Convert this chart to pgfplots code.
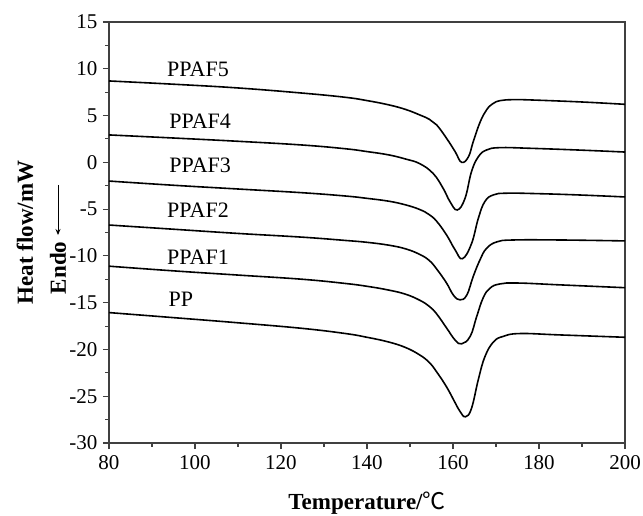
\documentclass[border=0pt]{standalone}
\usepackage{fontspec}
\setmainfont{Liberation Serif}
\newfontfamily\cjk{Noto Sans CJK SC}
\usepackage{pgfplots}
\pgfplotsset{compat=1.18}
\usetikzlibrary{arrows.meta}

\pgfplotstableread{
x y
80 -16.06
95 -16.6
110 -17.15
125 -17.75
135 -18.3
140 -18.7
145 -19.2
149 -19.8
152.3 -20.6
154.5 -21.4
156.2 -22.4
158.5 -24.0
160.5 -25.7
161.6 -26.6
162.9 -27.2
164.3 -26.3
165.9 -23.2
167.4 -20.8
169.4 -19.2
171.7 -18.6
175.6 -18.3
185 -18.45
200 -18.7
}\pp
\pgfplotstableread{
x y
80 -11.1
95 -11.6
110 -12.05
125 -12.5
135 -12.95
140 -13.25
145 -13.65
149 -14.1
152.3 -14.75
154.5 -15.4
156.2 -16.2
158.5 -17.7
160.5 -19.0
162.0 -19.4
164.0 -18.6
165.5 -16.5
167.0 -14.5
168.6 -13.45
170.9 -13.0
175 -12.9
185 -13.1
200 -13.4
}\ppafone
\pgfplotstableread{
x y
80 -6.7
95 -7.15
110 -7.6
125 -8.0
135 -8.35
140 -8.55
145 -8.85
149 -9.25
152.3 -9.85
154.5 -10.5
156.2 -11.4
158.5 -12.9
160.1 -14.2
161.6 -14.7
163.2 -14.2
164.7 -12.2
166.3 -10.4
167.8 -9.2
170.2 -8.5
174 -8.3
185 -8.3
200 -8.4
}\ppaftwo
\pgfplotstableread{
x y
80 -2.0
95 -2.45
110 -2.85
125 -3.25
135 -3.6
140 -3.85
145 -4.15
149 -4.55
152.3 -5.05
154.5 -5.6
156.2 -6.3
158.5 -7.76
160.5 -9.36
162.2 -10.3
164.3 -8.7
165.9 -5.97
167.4 -4.2
169.4 -3.48
172.5 -3.3
180 -3.35
190 -3.5
200 -3.7
}\ppafthree
\pgfplotstableread{
x y
80 2.93
95 2.6
110 2.25
125 1.85
135 1.45
140 1.15
145 0.8
149 0.35
152.3 -0.15
155.4 -1.2
157.7 -2.77
159.3 -4.2
161.0 -5.09
162.8 -3.84
164.3 -1.0
165.9 0.6
167.8 1.32
170.9 1.57
178 1.5
190 1.3
200 1.1
}\ppaffour
\pgfplotstableread{
x y
80 8.7
95 8.35
110 7.95
125 7.4
135 6.95
140 6.6
145 6.15
149 5.65
152.3 5.06
154.5 4.6
156.2 4.0
158.5 2.57
160.5 1.14
162.0 0.0
163.6 0.6
164.7 2.2
166.3 4.3
167.8 5.6
169.2 6.25
171 6.6
174 6.7
178 6.67
190 6.45
200 6.2
}\ppaffive

\begin{document}
\begin{tikzpicture}
\begin{axis}[name=ax,scale only axis,width=516pt,height=421pt,
 xmin=80,xmax=200,ymin=-30,ymax=15,
 xtick={80,100,...,200},ytick={-30,-25,...,15},
 minor x tick num=1,minor y tick num=1,
 tick align=outside,xtick pos=bottom,ytick pos=left,
 major tick length=6pt,minor tick length=3.5pt,
 axis line style={black!75,line width=1.2pt},
 tick style={black!75,line width=1.1pt},
 /pgf/number format/assume math mode=true,
 tick label style={font=\fontsize{21}{25}\selectfont},
 xticklabel style={yshift=-3pt},
 yticklabel style={xshift=-2pt},
 clip=false]
 \addplot[black,line width=1.6pt,smooth,tension=0.7] table[x=x,y=y]{\pp};
 \addplot[black,line width=1.6pt,smooth,tension=0.7] table[x=x,y=y]{\ppafone};
 \addplot[black,line width=1.6pt,smooth,tension=0.7] table[x=x,y=y]{\ppaftwo};
 \addplot[black,line width=1.6pt,smooth,tension=0.7] table[x=x,y=y]{\ppafthree};
 \addplot[black,line width=1.6pt,smooth,tension=0.7] table[x=x,y=y]{\ppaffour};
 \addplot[black,line width=1.6pt,smooth,tension=0.7] table[x=x,y=y]{\ppaffive};
 \begin{scope}[every node/.style={font=\fontsize{22}{26}\selectfont}]
 \node at (axis cs:100.7,9.9) {PPAF5};
 \node at (axis cs:101.2,4.35) {PPAF4};
 \node at (axis cs:101.2,-0.35) {PPAF3};
 \node at (axis cs:100.7,-5.1) {PPAF2};
 \node at (axis cs:100.7,-10.1) {PPAF1};
 \node at (axis cs:96.7,-14.6) {PP};
 \end{scope}
 \node[rotate=90,font=\fontsize{23}{27}\selectfont\bfseries] at (rel axis cs:-0.163,0.5) {Heat flow/mW};
 \node[rotate=90,font=\fontsize{23}{27}\selectfont\bfseries] at (rel axis cs:-0.0988,0.416) {Endo};
 \draw[black,line width=1pt,-{Stealth[length=6pt,width=5pt]}] (rel axis cs:-0.0988,0.613) -- (rel axis cs:-0.0988,0.494);
 \node[anchor=base,font=\fontsize{23}{27}\selectfont\bfseries] at ([yshift=-66pt]rel axis cs:0.5,0) {Temperature/{\cjk\mdseries ℃}};
\end{axis}
\pgfresetboundingbox
\path[use as bounding box] ([xshift=-109pt,yshift=-72pt]ax.south west) rectangle ([xshift=534pt,yshift=443pt]ax.south west);
\end{tikzpicture}
\end{document}
